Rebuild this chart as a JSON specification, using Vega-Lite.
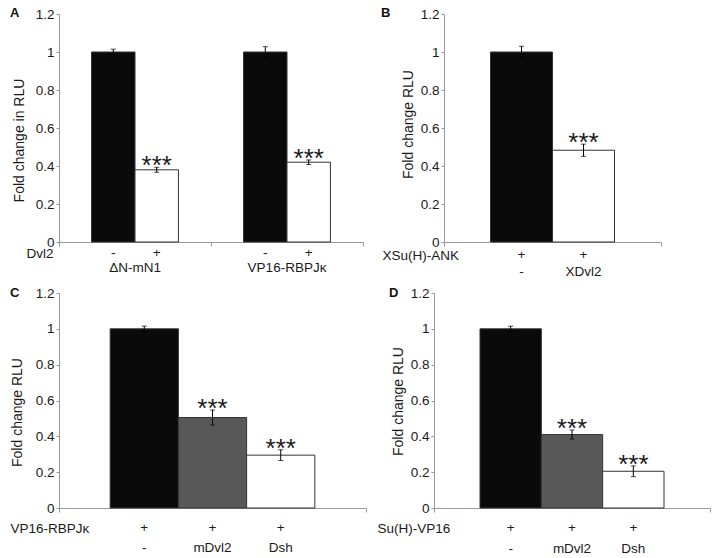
{
  "$schema": "https://vega.github.io/schema/vega-lite/v6.json",
  "padding": {"left": 10, "top": 7, "right": 0, "bottom": 0},
  "spacing": 7,
  "resolve": {"scale": {"xOffset": "independent", "color": "independent"}},
  "datasets": {
    "A": [
      {"group": "ΔN-mN1", "cond": "-", "value": 1.0, "lo": 0.985, "hi": 1.015, "sig": "", "r1": "-"},
      {"group": "ΔN-mN1", "cond": "+", "value": 0.38, "lo": 0.367, "hi": 0.393, "sig": "***", "r1": "+"},
      {"group": "VP16-RBPJκ", "cond": "-", "value": 1.0, "lo": 0.972, "hi": 1.028, "sig": "", "r1": "-"},
      {"group": "VP16-RBPJκ", "cond": "+", "value": 0.42, "lo": 0.408, "hi": 0.432, "sig": "***", "r1": "+"}
    ],
    "B": [
      {"group": "XSu(H)-ANK", "cond": "-", "value": 1.0, "lo": 0.97, "hi": 1.03, "sig": "", "r1": "+", "r2": "-"},
      {"group": "XSu(H)-ANK", "cond": "XDvl2", "value": 0.483, "lo": 0.451, "hi": 0.515, "sig": "***", "r1": "+", "r2": "XDvl2"}
    ],
    "C": [
      {"group": "VP16-RBPJκ", "cond": "-", "value": 1.0, "lo": 0.985, "hi": 1.015, "sig": "", "r1": "+", "r2": "-"},
      {"group": "VP16-RBPJκ", "cond": "mDvl2", "value": 0.505, "lo": 0.463, "hi": 0.547, "sig": "***", "r1": "+", "r2": "mDvl2"},
      {"group": "VP16-RBPJκ", "cond": "Dsh", "value": 0.295, "lo": 0.265, "hi": 0.325, "sig": "***", "r1": "+", "r2": "Dsh"}
    ],
    "D": [
      {"group": "Su(H)-VP16", "cond": "-", "value": 1.0, "lo": 0.985, "hi": 1.015, "sig": "", "r1": "+", "r2": "-"},
      {"group": "Su(H)-VP16", "cond": "mDvl2", "value": 0.41, "lo": 0.385, "hi": 0.435, "sig": "***", "r1": "+", "r2": "mDvl2"},
      {"group": "Su(H)-VP16", "cond": "Dsh", "value": 0.205, "lo": 0.175, "hi": 0.235, "sig": "***", "r1": "+", "r2": "Dsh"}
    ]
  },
  "vconcat": [
    {
      "bounds": "flush",
      "spacing": 81,
      "resolve": {"scale": {"xOffset": "independent", "color": "independent"}},
      "hconcat": [
        {
          "width": 304, "height": 228,
          "title": {"text": "A", "anchor": "start", "frame": "group", "dx": -49, "dy": 23, "offset": 0, "baseline": "alphabetic", "fontSize": 13, "fontWeight": "bold", "color": "#111"},
          "data": {"name": "A"},
          "encoding": {
            "x": {"field": "group", "type": "nominal", "sort": ["ΔN-mN1", "VP16-RBPJκ"], "scale": {"paddingInner": 0, "paddingOuter": 0},
              "axis": {"title": "Dvl2", "labels": false, "tickBand": "extent", "tickSize": 4, "titleX": -6, "titleY": 11, "titleAlign": "right", "titleBaseline": "middle", "titleFontSize": 13.5}}
          },
          "layer": [
            {"mark": {"type": "bar", "stroke": "#333", "strokeWidth": 1},
             "encoding": {
               "xOffset": {"field": "cond", "type": "nominal", "sort": ["-", "+"], "scale": {"paddingInner": 0, "paddingOuter": 0.75}},
               "y": {"field": "value", "type": "quantitative", "scale": {"domain": [0, 1.2], "nice": false},
                 "axis": {"title": "Fold change in RLU", "values": [0, 0.2, 0.4, 0.6, 0.8, 1, 1.2], "format": "~g", "labelOverlap": false, "titleX": -40, "titleY": 126, "titleAlign": "center", "titleBaseline": "middle", "tickSize": 3, "labelPadding": 2}},
               "color": {"field": "cond", "type": "nominal", "scale": {"domain": ["-", "+"], "range": ["#0a0a0a", "#ffffff"]}, "legend": null}}},
            {"mark": {"type": "rule", "color": "#000", "strokeWidth": 1},
             "encoding": {"xOffset": {"field": "cond", "type": "nominal", "sort": ["-", "+"]},
               "y": {"field": "lo", "type": "quantitative", "axis": {"title": "Fold change in RLU", "values": [0, 0.2, 0.4, 0.6, 0.8, 1, 1.2], "format": "~g", "labelOverlap": false, "titleX": -40, "titleY": 126, "titleAlign": "center", "titleBaseline": "middle", "tickSize": 3, "labelPadding": 2}}, "y2": {"field": "hi"}}},
            {"mark": {"type": "tick", "orient": "horizontal", "size": 5, "thickness": 1, "color": "#000"},
             "encoding": {"xOffset": {"field": "cond", "type": "nominal", "sort": ["-", "+"]},
               "y": {"field": "hi", "type": "quantitative", "axis": {"title": "Fold change in RLU", "values": [0, 0.2, 0.4, 0.6, 0.8, 1, 1.2], "format": "~g", "labelOverlap": false, "titleX": -40, "titleY": 126, "titleAlign": "center", "titleBaseline": "middle", "tickSize": 3, "labelPadding": 2}}}},
            {"mark": {"type": "tick", "orient": "horizontal", "size": 5, "thickness": 1, "color": "#000"},
             "encoding": {"xOffset": {"field": "cond", "type": "nominal", "sort": ["-", "+"]},
               "y": {"field": "lo", "type": "quantitative", "axis": {"title": "Fold change in RLU", "values": [0, 0.2, 0.4, 0.6, 0.8, 1, 1.2], "format": "~g", "labelOverlap": false, "titleX": -40, "titleY": 126, "titleAlign": "center", "titleBaseline": "middle", "tickSize": 3, "labelPadding": 2}}}},
            {"mark": {"type": "text", "fontSize": 26, "baseline": "alphabetic", "dy": 7, "fill": "#1a1a1a"},
             "encoding": {"xOffset": {"field": "cond", "type": "nominal", "sort": ["-", "+"]},
               "y": {"field": "hi", "type": "quantitative", "axis": {"title": "Fold change in RLU", "values": [0, 0.2, 0.4, 0.6, 0.8, 1, 1.2], "format": "~g", "labelOverlap": false, "titleX": -40, "titleY": 126, "titleAlign": "center", "titleBaseline": "middle", "tickSize": 3, "labelPadding": 2}}, "text": {"field": "sig"}}},
            {"mark": {"type": "text", "baseline": "middle", "dy": 11, "fontSize": 13.5, "fill": "#1a1a1a"},
             "encoding": {"xOffset": {"field": "cond", "type": "nominal", "sort": ["-", "+"]},
               "y": {"datum": 0, "type": "quantitative", "axis": {"title": "Fold change in RLU", "values": [0, 0.2, 0.4, 0.6, 0.8, 1, 1.2], "format": "~g", "labelOverlap": false, "titleX": -40, "titleY": 126, "titleAlign": "center", "titleBaseline": "middle", "tickSize": 3, "labelPadding": 2}}, "text": {"field": "r1"}}},
            {"transform": [{"filter": "datum.cond == '-'"}],
             "mark": {"type": "text", "baseline": "middle", "dy": 26, "fontSize": 13.5, "fill": "#1a1a1a"},
             "encoding": {"y": {"datum": 0, "type": "quantitative", "axis": {"title": "Fold change in RLU", "values": [0, 0.2, 0.4, 0.6, 0.8, 1, 1.2], "format": "~g", "labelOverlap": false, "titleX": -40, "titleY": 126, "titleAlign": "center", "titleBaseline": "middle", "tickSize": 3, "labelPadding": 2}}, "text": {"field": "group"}}}
          ]
        },
        {
          "width": 217, "height": 228,
          "title": {"text": "B", "anchor": "start", "frame": "group", "dx": -63, "dy": 23, "offset": 0, "baseline": "alphabetic", "fontSize": 13, "fontWeight": "bold", "color": "#111"},
          "data": {"name": "B"},
          "encoding": {
            "x": {"field": "group", "type": "nominal", "scale": {"paddingInner": 0, "paddingOuter": 0},
              "axis": {"title": "XSu(H)-ANK", "labels": false, "tickBand": "extent", "tickSize": 4, "titleX": -62, "titleY": 13, "titleAlign": "left", "titleBaseline": "middle", "titleFontSize": 13.5}},
            "xOffset": {"field": "cond", "type": "nominal", "sort": ["-", "XDvl2"], "scale": {"paddingInner": 0, "paddingOuter": 0.75}}
          },
          "layer": [
            {"mark": {"type": "bar", "stroke": "#333", "strokeWidth": 1},
             "encoding": {
               "y": {"field": "value", "type": "quantitative", "scale": {"domain": [0, 1.2], "nice": false},
                 "axis": {"title": "Fold change RLU", "values": [0, 0.2, 0.4, 0.6, 0.8, 1, 1.2], "format": "~g", "labelOverlap": false, "titleX": -36, "titleY": 110, "titleAlign": "center", "titleBaseline": "middle", "tickSize": 3, "labelPadding": 2}},
               "color": {"field": "cond", "type": "nominal", "scale": {"domain": ["-", "XDvl2"], "range": ["#0a0a0a", "#ffffff"]}, "legend": null}}},
            {"mark": {"type": "rule", "color": "#000", "strokeWidth": 1},
             "encoding": {"y": {"field": "lo", "type": "quantitative", "axis": {"title": "Fold change RLU", "values": [0, 0.2, 0.4, 0.6, 0.8, 1, 1.2], "format": "~g", "labelOverlap": false, "titleX": -36, "titleY": 110, "titleAlign": "center", "titleBaseline": "middle", "tickSize": 3, "labelPadding": 2}}, "y2": {"field": "hi"}}},
            {"mark": {"type": "tick", "orient": "horizontal", "size": 5, "thickness": 1, "color": "#000"},
             "encoding": {"y": {"field": "hi", "type": "quantitative", "axis": {"title": "Fold change RLU", "values": [0, 0.2, 0.4, 0.6, 0.8, 1, 1.2], "format": "~g", "labelOverlap": false, "titleX": -36, "titleY": 110, "titleAlign": "center", "titleBaseline": "middle", "tickSize": 3, "labelPadding": 2}}}},
            {"mark": {"type": "tick", "orient": "horizontal", "size": 5, "thickness": 1, "color": "#000"},
             "encoding": {"y": {"field": "lo", "type": "quantitative", "axis": {"title": "Fold change RLU", "values": [0, 0.2, 0.4, 0.6, 0.8, 1, 1.2], "format": "~g", "labelOverlap": false, "titleX": -36, "titleY": 110, "titleAlign": "center", "titleBaseline": "middle", "tickSize": 3, "labelPadding": 2}}}},
            {"mark": {"type": "text", "fontSize": 26, "baseline": "alphabetic", "dy": 7, "fill": "#1a1a1a"},
             "encoding": {"y": {"field": "hi", "type": "quantitative", "axis": {"title": "Fold change RLU", "values": [0, 0.2, 0.4, 0.6, 0.8, 1, 1.2], "format": "~g", "labelOverlap": false, "titleX": -36, "titleY": 110, "titleAlign": "center", "titleBaseline": "middle", "tickSize": 3, "labelPadding": 2}}, "text": {"field": "sig"}}},
            {"mark": {"type": "text", "baseline": "middle", "dy": 13, "fontSize": 13.5, "fill": "#1a1a1a"},
             "encoding": {"y": {"datum": 0, "type": "quantitative", "axis": {"title": "Fold change RLU", "values": [0, 0.2, 0.4, 0.6, 0.8, 1, 1.2], "format": "~g", "labelOverlap": false, "titleX": -36, "titleY": 110, "titleAlign": "center", "titleBaseline": "middle", "tickSize": 3, "labelPadding": 2}}, "text": {"field": "r1"}}},
            {"mark": {"type": "text", "baseline": "middle", "dy": 30, "fontSize": 13.5, "fill": "#1a1a1a"},
             "encoding": {"y": {"datum": 0, "type": "quantitative", "axis": {"title": "Fold change RLU", "values": [0, 0.2, 0.4, 0.6, 0.8, 1, 1.2], "format": "~g", "labelOverlap": false, "titleX": -36, "titleY": 110, "titleAlign": "center", "titleBaseline": "middle", "tickSize": 3, "labelPadding": 2}}, "text": {"field": "r2"}}}
          ]
        }
      ]
    },
    {
      "bounds": "flush",
      "spacing": 68,
      "resolve": {"scale": {"xOffset": "independent", "color": "independent"}},
      "hconcat": [
        {
          "width": 307, "height": 215,
          "title": {"text": "C", "anchor": "start", "frame": "group", "dx": -49, "dy": 24, "offset": 0, "baseline": "alphabetic", "fontSize": 13, "fontWeight": "bold", "color": "#111"},
          "data": {"name": "C"},
          "encoding": {
            "x": {"field": "group", "type": "nominal", "scale": {"paddingInner": 0, "paddingOuter": 0},
              "axis": {"title": "VP16-RBPJκ", "labels": false, "tickBand": "extent", "tickSize": 4, "titleX": -49, "titleY": 20, "titleAlign": "left", "titleBaseline": "middle", "titleFontSize": 13.5}},
            "xOffset": {"field": "cond", "type": "nominal", "sort": ["-", "mDvl2", "Dsh"], "scale": {"paddingInner": 0, "paddingOuter": 0.75}}
          },
          "layer": [
            {"mark": {"type": "bar", "stroke": "#333", "strokeWidth": 1},
             "encoding": {
               "y": {"field": "value", "type": "quantitative", "scale": {"domain": [0, 1.2], "nice": false},
                 "axis": {"title": "Fold change RLU", "values": [0, 0.2, 0.4, 0.6, 0.8, 1, 1.2], "format": "~g", "labelOverlap": false, "titleX": -42, "titleY": 119, "titleAlign": "center", "titleBaseline": "middle", "tickSize": 3, "labelPadding": 2}},
               "color": {"field": "cond", "type": "nominal", "scale": {"domain": ["-", "mDvl2", "Dsh"], "range": ["#0a0a0a", "#585858", "#ffffff"]}, "legend": null}}},
            {"mark": {"type": "rule", "color": "#000", "strokeWidth": 1},
             "encoding": {"y": {"field": "lo", "type": "quantitative", "axis": {"title": "Fold change RLU", "values": [0, 0.2, 0.4, 0.6, 0.8, 1, 1.2], "format": "~g", "labelOverlap": false, "titleX": -42, "titleY": 119, "titleAlign": "center", "titleBaseline": "middle", "tickSize": 3, "labelPadding": 2}}, "y2": {"field": "hi"}}},
            {"mark": {"type": "tick", "orient": "horizontal", "size": 5, "thickness": 1, "color": "#000"},
             "encoding": {"y": {"field": "hi", "type": "quantitative", "axis": {"title": "Fold change RLU", "values": [0, 0.2, 0.4, 0.6, 0.8, 1, 1.2], "format": "~g", "labelOverlap": false, "titleX": -42, "titleY": 119, "titleAlign": "center", "titleBaseline": "middle", "tickSize": 3, "labelPadding": 2}}}},
            {"mark": {"type": "tick", "orient": "horizontal", "size": 5, "thickness": 1, "color": "#000"},
             "encoding": {"y": {"field": "lo", "type": "quantitative", "axis": {"title": "Fold change RLU", "values": [0, 0.2, 0.4, 0.6, 0.8, 1, 1.2], "format": "~g", "labelOverlap": false, "titleX": -42, "titleY": 119, "titleAlign": "center", "titleBaseline": "middle", "tickSize": 3, "labelPadding": 2}}}},
            {"mark": {"type": "text", "fontSize": 26, "baseline": "alphabetic", "dy": 7, "fill": "#1a1a1a"},
             "encoding": {"y": {"field": "hi", "type": "quantitative", "axis": {"title": "Fold change RLU", "values": [0, 0.2, 0.4, 0.6, 0.8, 1, 1.2], "format": "~g", "labelOverlap": false, "titleX": -42, "titleY": 119, "titleAlign": "center", "titleBaseline": "middle", "tickSize": 3, "labelPadding": 2}}, "text": {"field": "sig"}}},
            {"mark": {"type": "text", "baseline": "middle", "dy": 20, "fontSize": 13.5, "fill": "#1a1a1a"},
             "encoding": {"y": {"datum": 0, "type": "quantitative", "axis": {"title": "Fold change RLU", "values": [0, 0.2, 0.4, 0.6, 0.8, 1, 1.2], "format": "~g", "labelOverlap": false, "titleX": -42, "titleY": 119, "titleAlign": "center", "titleBaseline": "middle", "tickSize": 3, "labelPadding": 2}}, "text": {"field": "r1"}}},
            {"mark": {"type": "text", "baseline": "middle", "dy": 40, "fontSize": 13.5, "fill": "#1a1a1a"},
             "encoding": {"y": {"datum": 0, "type": "quantitative", "axis": {"title": "Fold change RLU", "values": [0, 0.2, 0.4, 0.6, 0.8, 1, 1.2], "format": "~g", "labelOverlap": false, "titleX": -42, "titleY": 119, "titleAlign": "center", "titleBaseline": "middle", "tickSize": 3, "labelPadding": 2}}, "text": {"field": "r2"}}}
          ]
        },
        {
          "width": 276, "height": 215,
          "title": {"text": "D", "anchor": "start", "frame": "group", "dx": -45, "dy": 24, "offset": 0, "baseline": "alphabetic", "fontSize": 13, "fontWeight": "bold", "color": "#111"},
          "data": {"name": "D"},
          "encoding": {
            "x": {"field": "group", "type": "nominal", "scale": {"paddingInner": 0, "paddingOuter": 0},
              "axis": {"title": "Su(H)-VP16", "labels": false, "tickBand": "extent", "tickSize": 4, "titleX": -57, "titleY": 20, "titleAlign": "left", "titleBaseline": "middle", "titleFontSize": 13.5}},
            "xOffset": {"field": "cond", "type": "nominal", "sort": ["-", "mDvl2", "Dsh"], "scale": {"paddingInner": 0, "paddingOuter": 0.75}}
          },
          "layer": [
            {"mark": {"type": "bar", "stroke": "#333", "strokeWidth": 1},
             "encoding": {
               "y": {"field": "value", "type": "quantitative", "scale": {"domain": [0, 1.2], "nice": false},
                 "axis": {"title": "Fold change RLU", "values": [0, 0.2, 0.4, 0.6, 0.8, 1, 1.2], "format": "~g", "labelOverlap": false, "titleX": -36, "titleY": 108, "titleAlign": "center", "titleBaseline": "middle", "tickSize": 3, "labelPadding": 2}},
               "color": {"field": "cond", "type": "nominal", "scale": {"domain": ["-", "mDvl2", "Dsh"], "range": ["#0a0a0a", "#585858", "#ffffff"]}, "legend": null}}},
            {"mark": {"type": "rule", "color": "#000", "strokeWidth": 1},
             "encoding": {"y": {"field": "lo", "type": "quantitative", "axis": {"title": "Fold change RLU", "values": [0, 0.2, 0.4, 0.6, 0.8, 1, 1.2], "format": "~g", "labelOverlap": false, "titleX": -36, "titleY": 108, "titleAlign": "center", "titleBaseline": "middle", "tickSize": 3, "labelPadding": 2}}, "y2": {"field": "hi"}}},
            {"mark": {"type": "tick", "orient": "horizontal", "size": 5, "thickness": 1, "color": "#000"},
             "encoding": {"y": {"field": "hi", "type": "quantitative", "axis": {"title": "Fold change RLU", "values": [0, 0.2, 0.4, 0.6, 0.8, 1, 1.2], "format": "~g", "labelOverlap": false, "titleX": -36, "titleY": 108, "titleAlign": "center", "titleBaseline": "middle", "tickSize": 3, "labelPadding": 2}}}},
            {"mark": {"type": "tick", "orient": "horizontal", "size": 5, "thickness": 1, "color": "#000"},
             "encoding": {"y": {"field": "lo", "type": "quantitative", "axis": {"title": "Fold change RLU", "values": [0, 0.2, 0.4, 0.6, 0.8, 1, 1.2], "format": "~g", "labelOverlap": false, "titleX": -36, "titleY": 108, "titleAlign": "center", "titleBaseline": "middle", "tickSize": 3, "labelPadding": 2}}}},
            {"mark": {"type": "text", "fontSize": 26, "baseline": "alphabetic", "dy": 7, "fill": "#1a1a1a"},
             "encoding": {"y": {"field": "hi", "type": "quantitative", "axis": {"title": "Fold change RLU", "values": [0, 0.2, 0.4, 0.6, 0.8, 1, 1.2], "format": "~g", "labelOverlap": false, "titleX": -36, "titleY": 108, "titleAlign": "center", "titleBaseline": "middle", "tickSize": 3, "labelPadding": 2}}, "text": {"field": "sig"}}},
            {"mark": {"type": "text", "baseline": "middle", "dy": 20, "fontSize": 13.5, "fill": "#1a1a1a"},
             "encoding": {"y": {"datum": 0, "type": "quantitative", "axis": {"title": "Fold change RLU", "values": [0, 0.2, 0.4, 0.6, 0.8, 1, 1.2], "format": "~g", "labelOverlap": false, "titleX": -36, "titleY": 108, "titleAlign": "center", "titleBaseline": "middle", "tickSize": 3, "labelPadding": 2}}, "text": {"field": "r1"}}},
            {"mark": {"type": "text", "baseline": "middle", "dy": 41, "fontSize": 13.5, "fill": "#1a1a1a"},
             "encoding": {"y": {"datum": 0, "type": "quantitative", "axis": {"title": "Fold change RLU", "values": [0, 0.2, 0.4, 0.6, 0.8, 1, 1.2], "format": "~g", "labelOverlap": false, "titleX": -36, "titleY": 108, "titleAlign": "center", "titleBaseline": "middle", "tickSize": 3, "labelPadding": 2}}, "text": {"field": "r2"}}}
          ]
        }
      ]
    }
  ],
  "config": {
    "font": "Liberation Sans",
    "view": {"stroke": null},
    "axis": {"labelFontSize": 13.5, "titleFontSize": 14, "titleFontWeight": "normal", "labelColor": "#1a1a1a", "titleColor": "#1a1a1a", "domainColor": "#999", "tickColor": "#999", "grid": false, "labelFont": "Liberation Sans", "titleFont": "Liberation Sans"},
    "axisY": {"labelOverlap": false},
    "title": {"font": "Liberation Sans"}
  }
}
